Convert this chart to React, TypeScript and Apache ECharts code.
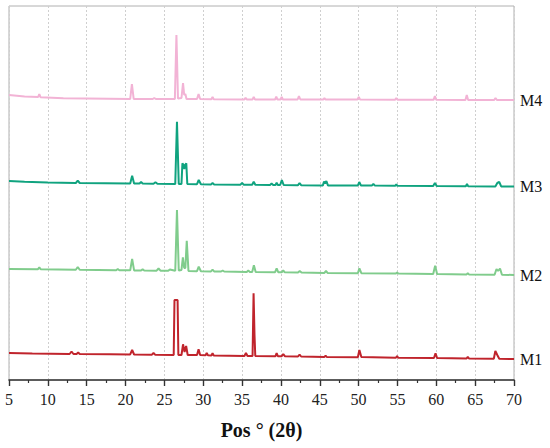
import React, { useEffect, useRef } from "react";
import * as echarts from "echarts";

// 2θ positions (°) and intensities (a.u., offset stacked)
const seriesNames = ["M1", "M2", "M3", "M4"];
const seriesColors = ["#c0242c", "#80cc8c", "#10a37f", "#f2b3d5"];
const xTicks = [5, 10, 15, 20, 25, 30, 35, 40, 45, 50, 55, 60, 65, 70];

const m1Pattern: number[][] = [
  [5, 27], [8, 26.5], [12.8, 26], [13.05, 28.5], [13.3, 26], [13.7, 26], [13.9, 27.5], [14.1, 26],
  [18, 25.8], [20.6, 25.6], [20.85, 30], [21.1, 25.5], [23.4, 25.3], [23.6, 27], [23.8, 25.3],
  [26.2, 25], [26.3, 80], [26.7, 80], [26.8, 25], [27.2, 25], [27.4, 35.7], [27.6, 28], [27.8, 34],
  [28.0, 25], [29.2, 25], [29.4, 30.7], [29.6, 25], [30.3, 24.7], [30.45, 27], [30.6, 24.7],
  [31.05, 24.5], [31.2, 26.7], [31.35, 24.5], [35.3, 24], [35.5, 27], [35.7, 24], [36.35, 24],
  [36.48, 86.7], [36.6, 45], [36.7, 24], [39.3, 23.8], [39.45, 27], [39.6, 23.8], [40.1, 23.8],
  [40.3, 26], [40.5, 23.8], [42.2, 23.5], [42.4, 25.5], [42.6, 23.5], [45.6, 23], [45.75, 24.5],
  [45.9, 23], [49.9, 22.8], [50.1, 30], [50.35, 23], [54.8, 22.3], [54.95, 24], [55.1, 22.3],
  [59.7, 22], [59.9, 26.7], [60.1, 22], [63.9, 21.6], [64.05, 23], [64.2, 21.6], [67.4, 21.3],
  [67.6, 29], [67.85, 25], [68.1, 21.3], [70, 21],
];

const m2Pattern: number[][] = [
  [5, 111], [8.7, 110.7], [8.9, 112.5], [9.1, 110.7], [13.6, 110.2], [13.85, 113], [14.1, 110.2],
  [18.8, 109.8], [19, 111], [19.2, 109.8], [20.6, 109.7], [20.85, 121], [21.1, 109.6], [22, 109.5],
  [22.2, 110.8], [22.4, 109.5], [24, 109.3], [24.25, 111.5], [24.5, 109.3], [25.5, 109.2],
  [25.7, 110.5], [26.4, 109.2], [26.62, 170], [26.85, 109.5], [27.2, 110], [27.38, 122.7],
  [27.55, 112], [27.7, 112], [27.88, 139.3], [28.1, 109], [29.2, 108.8], [29.42, 113.3],
  [29.7, 108.8], [31, 108.6], [31.2, 110.3], [31.4, 108.6], [32.3, 108.5], [32.5, 109.5],
  [32.7, 108.5], [35.6, 108.1], [35.8, 109.5], [36.0, 108.1], [36.3, 108.1], [36.52, 114.7],
  [36.75, 108], [39.25, 107.8], [39.45, 111.7], [39.65, 107.8], [40.1, 107.7], [40.3, 109.5],
  [40.5, 107.7], [42.2, 107.5], [42.42, 109], [42.65, 107.5], [45.6, 107.1], [45.8, 109],
  [46, 107.1], [49.9, 106.8], [50.1, 111.7], [50.35, 106.8], [54.8, 106.4], [54.95, 107.5],
  [55.1, 106.4], [59.6, 106], [59.85, 114.3], [60.1, 106], [63.9, 105.6], [64.05, 106.8],
  [64.2, 105.6], [67.5, 105.3], [67.75, 111], [67.95, 109], [68.2, 111.5], [68.45, 105.3], [70, 105],
];

const m3Pattern: number[][] = [
  [5, 199], [7, 198.3], [10, 197.5], [13.6, 197], [13.85, 199.3], [14.1, 197], [20.6, 196.6],
  [20.85, 204.3], [21.1, 196.6], [21.8, 196.5], [22, 198], [22.2, 196.5], [23.6, 196.3],
  [23.85, 197.8], [24.1, 196.3], [26.4, 196], [26.62, 258.3], [26.85, 196], [27.2, 196],
  [27.32, 216.7], [27.48, 215], [27.57, 211], [27.66, 215], [27.82, 216.7], [27.95, 196],
  [29.2, 195.8], [29.42, 200], [29.7, 195.7],
  [31.0, 195.6], [31.2, 197], [31.4, 195.6], [34.8, 195.3], [35.0, 197], [35.2, 195.3],
  [36.3, 195.2], [36.5, 198.3], [36.7, 195.2], [38.6, 195.1], [38.8, 196.5], [39.0, 195.1],
  [39.3, 195], [39.45, 197.3], [39.6, 195], [39.9, 195], [40.12, 200], [40.35, 195], [42.2, 194.8],
  [42.4, 197], [42.6, 194.8], [45.4, 194.6], [45.55, 198.5], [45.7, 196.5], [45.85, 199],
  [46.05, 194.6], [49.9, 194.5], [50.08, 198], [50.3, 194.5], [51.7, 194.4], [51.9, 196],
  [52.1, 194.4], [54.7, 194.2], [54.85, 195.5], [55.0, 194.2], [59.6, 194], [59.82, 197],
  [60.05, 194], [63.8, 193.8], [63.95, 196], [64.1, 193.8], [67.6, 193.6], [67.85, 197],
  [68.1, 198], [68.35, 193.6], [70, 193.5],
];

const m4Pattern: number[][] = [
  [5, 285], [7, 283.5], [8.75, 283], [8.9, 286], [9.05, 282.8], [12, 281.8], [15, 281.5],
  [20.6, 281], [20.82, 296], [21.05, 281], [23.5, 281], [23.7, 282], [23.9, 281], [26.35, 281],
  [26.55, 345], [26.75, 281.5], [27.2, 282], [27.4, 297], [27.55, 285], [27.7, 286], [27.85, 281],
  [29.2, 281], [29.4, 286], [29.6, 281], [31.05, 280.8], [31.2, 283], [31.35, 280.8],
  [35.3, 280.6], [35.45, 282.3], [35.6, 280.6], [36.35, 280.6], [36.5, 283], [36.65, 280.6],
  [39.25, 280.5], [39.4, 283.3], [39.55, 280.5], [39.95, 280.5], [40.1, 283], [40.25, 280.5],
  [42.15, 280.5], [42.32, 284], [42.5, 280.5], [45.45, 280.4], [45.6, 281.8], [45.75, 280.4],
  [49.85, 280.4], [50.02, 283], [50.2, 280.4], [54.7, 280.3], [54.85, 282], [55.0, 280.3],
  [59.65, 280.2], [59.82, 284], [60.0, 280.2], [63.75, 280.1], [63.92, 285], [64.1, 280.1],
  [67.45, 280], [67.62, 282], [67.8, 280], [70, 280],
];

const patterns = [m1Pattern, m2Pattern, m3Pattern, m4Pattern];
const serif = "Liberation Serif";

export default function App() {
  const ref = useRef<HTMLDivElement>(null);
  useEffect(() => {
    if (!ref.current) return;
    const chart = echarts.init(ref.current, null, { renderer: "svg" });
    chart.setOption({
      animation: false,
      backgroundColor: "#ffffff",
      grid: {
        left: 9,
        right: 36,
        top: 6,
        bottom: 68,
        show: true,
        borderColor: "#b0b0b0",
        borderWidth: 1,
      },
      xAxis: {
        type: "value",
        min: xTicks[0],
        max: xTicks[xTicks.length - 1],
        interval: 5,
        name: "Pos ° (2θ)",
        nameLocation: "middle",
        nameGap: 40,
        nameTextStyle: {
          fontFamily: serif,
          fontWeight: "bold",
          fontSize: 20,
          color: "#111",
        },
        axisLine: { show: true, onZero: false, lineStyle: { color: "#333", width: 1.6 } },
        axisTick: { show: true, length: 6, lineStyle: { color: "#333", width: 1.4 } },
        minorTick: { show: true, splitNumber: 2, length: 3, lineStyle: { color: "#333", width: 1.2 } },
        axisLabel: { fontFamily: serif, fontSize: 16, color: "#222", margin: 11 },
        splitLine: { show: true, lineStyle: { color: "#cfcfcf", type: [2, 2], width: 1 } },
      },
      yAxis: {
        type: "value",
        min: 0,
        max: 374,
        show: false,
        splitLine: { show: false },
      },
      series: patterns.map((p, i) => ({
        name: seriesNames[i],
        type: "line",
        data: p,
        showSymbol: false,
        symbol: "none",
        lineStyle: { color: seriesColors[i], width: 2 },
        itemStyle: { color: seriesColors[i] },
        endLabel: {
          show: true,
          formatter: seriesNames[i],
          distance: 6,
          fontFamily: serif,
          fontSize: 16,
          color: "#111",
        },
      })),
    });
    return () => chart.dispose();
  }, []);
  return (
    <div
      ref={ref}
      style={{ position: "fixed", left: 0, top: 0, width: 550, height: 448, background: "#fff" }}
    />
  );
}
